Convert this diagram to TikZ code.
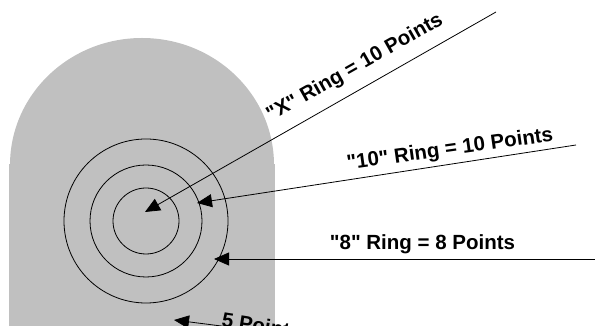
\documentclass[tikz,border=0pt]{standalone}
\usepackage{fontspec}
\setmainfont{Liberation Sans}[Ligatures=TeXOff]
\usetikzlibrary{arrows.meta}
\definecolor{targetgray}{HTML}{C0C0C0}
\tikzset{
  ring/.style={circle, draw=black, line width=0.8pt, inner sep=0pt},
  pointer/.style={draw=black, line width=0.8pt, -{Triangle[length=15pt,width=13pt]}},
  lbl/.style={font=\bfseries\fontsize{20.5}{24}\selectfont, inner sep=0pt, text=black}
}
\begin{document}
\begin{tikzpicture}[x=1pt,y=1pt]
\useasboundingbox (0,0) rectangle (595,326);
\clip (0,0) rectangle (595,326);
% target backing
\fill[targetgray] (9,-2) rectangle (275,161.5);
\fill[targetgray] (10,160) -- (10,161) arc[start angle=180, end angle=0, x radius=132, y radius=127] -- (274,160) -- cycle;
% rings
\coordinate (c) at (146,105);
\node[ring, minimum size=66pt] (inner) at (c) {};
\node[ring, minimum size=112pt] (middle) at (c) {};
\node[ring, minimum size=164pt] (outer) at (c) {};
% pointer ends
\coordinate (xtail) at (496,314);
\coordinate (xtip) at (145,114);
\coordinate (ttail) at (576,181);
\coordinate (ttip) at (197,123);
\coordinate (etail) at (596,67);
\coordinate (etip) at (214,67);
\coordinate (ftail) at (245,-3);
\coordinate (ftip) at (174,6);
\draw[pointer] (xtail) -- (xtip);
\draw[pointer] (ttail) -- (ttip);
\draw[pointer] (etail) -- (etip);
\draw[pointer] (ftail) -- (ftip);
% labels
\node[lbl, rotate=29.5] (xlabel) at (355,258) {"X" Ring = 10 Points};
\node[lbl, rotate=8] (tlabel) at (450,176) {"10" Ring = 10 Points};
\node[lbl, anchor=base] (elabel) at (422.5,76) {"8" Ring = 8 Points};
\node[lbl, anchor=base west, rotate=-9] (flabel) at (221,-0.5) {5 Points};
\end{tikzpicture}
\end{document}
